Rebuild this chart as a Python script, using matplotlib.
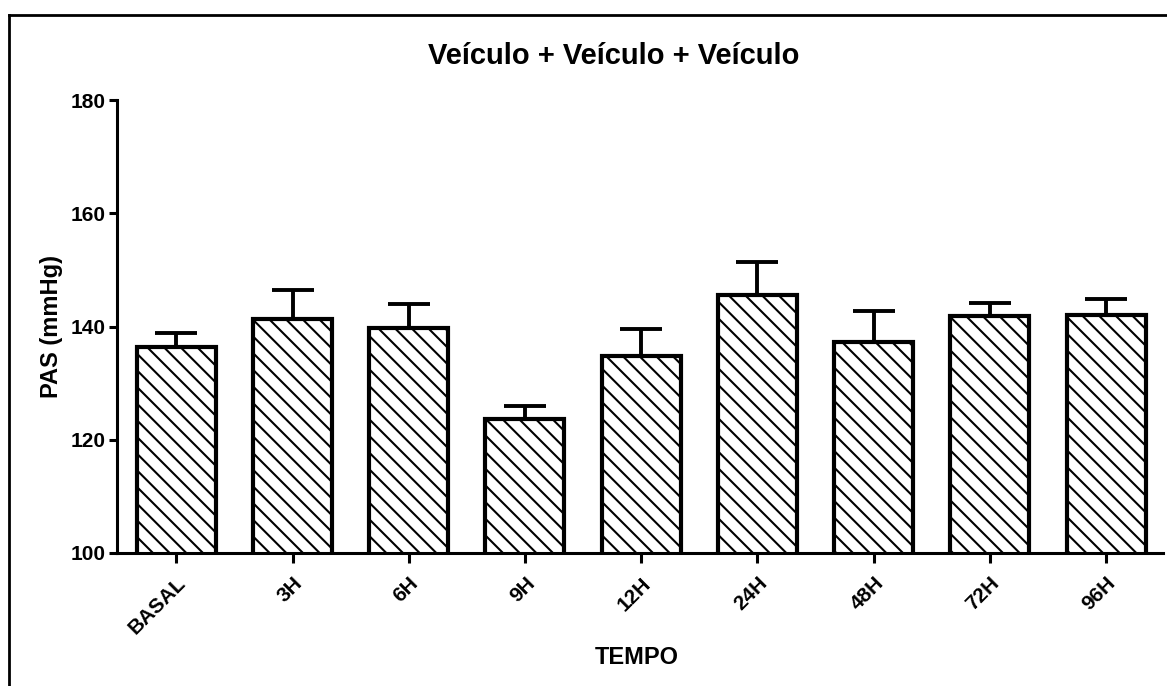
import numpy as np
import matplotlib
matplotlib.use("Agg")
import matplotlib.pyplot as plt
from matplotlib.lines import Line2D

# dados (média + erro superior)
tempos = ["BASAL", "3H", "6H", "9H", "12H", "24H", "48H", "72H", "96H"]
pas_media = [136.4, 141.3, 139.8, 123.6, 134.8, 145.6, 137.3, 141.9, 142.1]
pas_erro = [2.5, 5.1, 4.1, 2.3, 4.7, 5.8, 5.5, 2.2, 2.8]

plt.rcParams["font.family"] = ["Liberation Sans", "DejaVu Sans"]
plt.rcParams["font.weight"] = "bold"
plt.rcParams["hatch.linewidth"] = 1.5

fig = plt.figure(figsize=(11.67, 6.86), dpi=100)
ax = fig.add_axes([0.1003, 0.1939, 0.8963, 0.6603])

x = np.arange(len(tempos))
ax.errorbar(x, pas_media, yerr=[np.zeros(len(pas_erro)), pas_erro], fmt="none",
            ecolor="black", elinewidth=2.8, capsize=15, capthick=2.8, zorder=1)
ax.bar(x, pas_media, width=0.68, bottom=0, color="white", edgecolor="black",
       linewidth=3.0, hatch="\\\\", zorder=2)

ax.set_ylim(100, 180)
ax.set_xlim(-0.51, 8.49)
ax.set_yticks([100, 120, 140, 160, 180])
ax.set_xticks(x)
ax.set_xticklabels(tempos, rotation=45, ha="right", rotation_mode="anchor")
ax.tick_params(axis="both", labelsize=15, width=2.2, direction="out")
ax.tick_params(axis="y", length=6, pad=2)
ax.tick_params(axis="x", length=7, pad=8)

for s in ["top", "right"]:
    ax.spines[s].set_visible(False)
for s in ["left", "bottom"]:
    ax.spines[s].set_linewidth(2.2)

ax.set_ylabel("PAS (mmHg)", fontsize=17, fontweight="bold", labelpad=6)
fig.text(0.546, 0.042, "TEMPO", fontsize=17, fontweight="bold", ha="center", va="center")
fig.text(0.526, 0.918, "Veículo + Veículo + Veículo", fontsize=21,
         fontweight="bold", ha="center", va="center")

# moldura externa (só esquerda e topo visíveis)
fig.add_artist(Line2D([9 / 1167, 9 / 1167], [0, 1 - 15 / 686], color="black", lw=2.0,
                      transform=fig.transFigure))
fig.add_artist(Line2D([9 / 1167, 1], [1 - 15 / 686, 1 - 15 / 686], color="black", lw=2.0,
                      transform=fig.transFigure))

fig.savefig("out.png", dpi=100)
